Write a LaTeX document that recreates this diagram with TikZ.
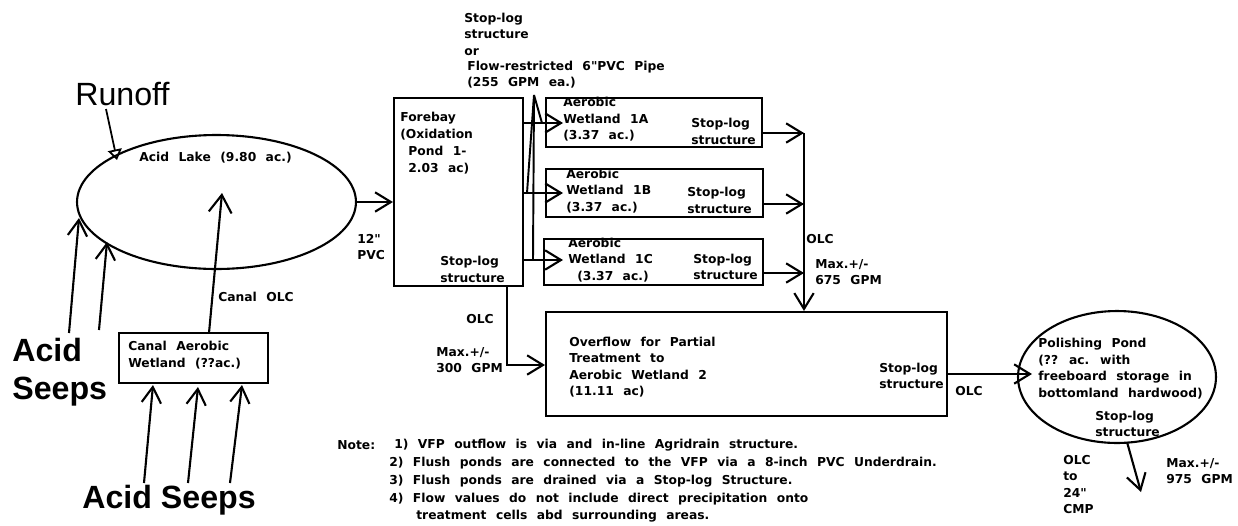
\documentclass[tikz,border=0pt]{standalone}
\usepackage{fontspec}
\setmainfont{DejaVu Sans}
\newfontfamily\cadfont[WordSpace=2.2]{DejaVu Sans}
\newfontfamily\seepfont{Liberation Sans}
\usetikzlibrary{shapes.geometric,arrows.meta}
\tikzset{
  cell/.style={draw,rectangle,inner sep=0pt,line width=1.2pt},
  pond/.style={draw,ellipse,inner sep=0pt,line width=1.2pt},
  lbl/.style={anchor=west,inner sep=0pt,align=left,
              font=\fontsize{7}{9.4}\selectfont\cadfont\bfseries},
  big/.style={anchor=west,inner sep=0pt,align=left,
              font=\fontsize{18.3}{24}\selectfont\seepfont\bfseries},
  arr/.style={-{Straight Barb[length=10pt,width=13pt]},line width=1.2pt},
  arrs/.style={-{Straight Barb[length=9pt,width=11pt]},line width=1.2pt},
  arrt/.style={-{Triangle[open,length=6pt,width=8pt]},line width=1pt},
  pipe/.style={line width=1.1pt},
}
\begin{document}
\begin{tikzpicture}[x=0.02cm,y=-0.02cm]
    \useasboundingbox (0,0) rectangle (1238,525);
    % ponds and cells
    \node[pond,minimum width=5.58cm,minimum height=2.68cm] (lake) at (216.5,202) {};
    \node[cell,minimum width=2.98cm,minimum height=1cm] (canal) at (193.5,358) {};
    \node[cell,minimum width=2.58cm,minimum height=3.76cm] (fore) at (458.5,192) {};
    \node[cell,minimum width=4.32cm,minimum height=0.98cm] (w1a) at (654,122.5) {};
    \node[cell,minimum width=4.34cm,minimum height=0.96cm] (w1b) at (654.5,193) {};
    \node[cell,minimum width=4.38cm,minimum height=0.92cm] (w1c) at (653.5,262) {};
    \node[cell,minimum width=8.02cm,minimum height=2.08cm] (over) at (746.5,364) {};
    \node[pond,minimum width=3.96cm,minimum height=2.64cm] (polish) at (1117,377) {};
    % labels
    \node[big,font=\fontsize{18.3}{24}\selectfont\seepfont] (runoff) at (75,94) {Runoff};
    \node[big] (seep1) at (12,350) {Acid};
    \node[big] (seep2) at (12,392) {Seeps};
    \node[big] (seep3) at (82,500) {Acid Seeps};
    \node[lbl] (llake) at (139,158) {Acid Lake (9.80 ac.)};
    \node[lbl] (lcanalolc) at (218,297) {Canal OLC};
    \node[lbl] (lpvc) at (357,247) {12"\\PVC};
    \node[lbl] (lcanal) at (128,355) {Canal Aerobic\\Wetland (??ac.)};
    \node[lbl] (lstop) at (464,34) {Stop-log\\structure\\or};
    \node[lbl] (lflow) at (467,74.5) {Flow-restricted 6"PVC Pipe\\(255 GPM ea.)};
    \node[lbl] (lfore) at (400,126) {Forebay\\(Oxidation};
    \node[lbl] (lfore2) at (408,160) {Pond 1-\\2.03 ac)};
    \node[lbl] (lfores) at (440,269.5) {Stop-log\\structure};
    \node[lbl] (l1a) at (563,119.5) {Aerobic\\Wetland 1A\\(3.37 ac.)};
    \node[lbl] (l1as) at (691,131.5) {Stop-log\\structure};
    \node[lbl] (l1b) at (566,191) {Aerobic\\Wetland 1B\\(3.37 ac.)};
    \node[lbl] (l1bs) at (687,200.5) {Stop-log\\structure};
    \node[lbl] (l1c) at (568,251) {Aerobic\\Wetland 1C};
    \node[lbl] (l1c2) at (577,277) {(3.37 ac.)};
    \node[lbl] (l1cs) at (693,267) {Stop-log\\structure};
    \node[lbl] (lolc1) at (806,239) {OLC};
    \node[lbl] (lmax1) at (815,272) {Max.+/-\\675 GPM};
    \node[lbl] (lolc2) at (466,319) {OLC};
    \node[lbl] (lmax2) at (436,360) {Max.+/-\\300 GPM};
    \node[lbl] (lover) at (569,367) {Overflow for Partial\\Treatment to\\Aerobic Wetland 2\\(11.11 ac)};
    \node[lbl] (lovers) at (879,376) {Stop-log\\structure};
    \node[lbl] (lolc3) at (955,391) {OLC};
    \node[lbl] (lpolish) at (1038,368.5) {Polishing Pond\\(?? ac. with\\freeboard storage in\\bottomland hardwood)};
    \node[lbl] (lpols) at (1095,424) {Stop-log\\structure};
    \node[lbl] (lolc4) at (1063,484.5) {OLC\\to\\24"\\CMP};
    \node[lbl] (lmax3) at (1166,471) {Max.+/-\\975 GPM};
    \node[lbl] (note) at (337,445) {Note:};
    \node[lbl] (n1) at (394,445) {1) VFP outflow is via and in-line Agridrain structure.};
    \node[lbl] (n2) at (389,463) {2) Flush ponds are connected to the VFP via a 8-inch PVC Underdrain.};
    \node[lbl] (n3) at (389,481) {3) Flush ponds are drained via a Stop-log Structure.};
    \node[lbl] (n4) at (389,499) {4) Flow values do not include direct precipitation onto};
    \node[lbl] (n5) at (416,516) {treatment cells abd surrounding areas.};
    % free ends
    \coordinate (rf) at (106,109);
    \coordinate (rt) at (117,160);
    \coordinate (s1) at (69,333);
    \coordinate (s1t) at (79,218);
    \coordinate (s2) at (99,330);
    \coordinate (s2t) at (107,242);
    \coordinate (s3) at (144,483);
    \coordinate (s3t) at (153,385);
    \coordinate (s4) at (188,483);
    \coordinate (s4t) at (198,387);
    \coordinate (s5) at (230,483);
    \coordinate (s5t) at (242,385);
    \coordinate (cl) at (209,333);
    \coordinate (clt) at (222,193);
    \coordinate (apex) at (534,95);
    \coordinate (ta) at (563,123);
    \coordinate (tb) at (563,193);
    \coordinate (tc) at (563,260);
    \coordinate (pa) at (542,123);
    \coordinate (pb) at (527,193);
    \coordinate (pc) at (533,260);
    \coordinate (ja) at (804,133);
    \coordinate (jb) at (804,204);
    \coordinate (jc) at (804,273);
    \coordinate (fo) at (507,286);
    \coordinate (ft) at (507,365);
    \coordinate (po) at (1127,442);
    \coordinate (pt) at (1141,492);
    \coordinate (ot) at (1032,374);
    % connectors
    \draw[arrt] (rf)--(rt);
    \draw[arrs] (s1)--(s1t); \draw[arrs] (s2)--(s2t);
    \draw[arrs] (s3)--(s3t); \draw[arrs] (s4)--(s4t); \draw[arrs] (s5)--(s5t);
    \draw[arr] (cl)--(clt);
    \draw[arrs] (lake.east)--(fore.west |- lake.east);
    \draw[arrs] (fore.east |- ta)--(ta);
    \draw[arrs] (fore.east |- tb)--(tb);
    \draw[arrs] (fore.east |- tc)--(tc);
    \draw[pipe] (apex)--(pa); \draw[pipe] (apex)--(pb); \draw[pipe] (apex)--(pc);
    \draw[arrs] (w1a.east |- ja)--(ja);
    \draw[arrs] (w1b.east |- jb)--(jb);
    \draw[arrs] (w1c.east |- jc)--(jc);
    \draw[arrs] (ja)--(over.north -| ja);
    \draw[arrs] (fo)--(ft)--(over.west |- ft);
    \draw[arrs] (over.east |- ot)--(ot);
    \draw[arrs] (po)--(pt);
\end{tikzpicture}
\end{document}
